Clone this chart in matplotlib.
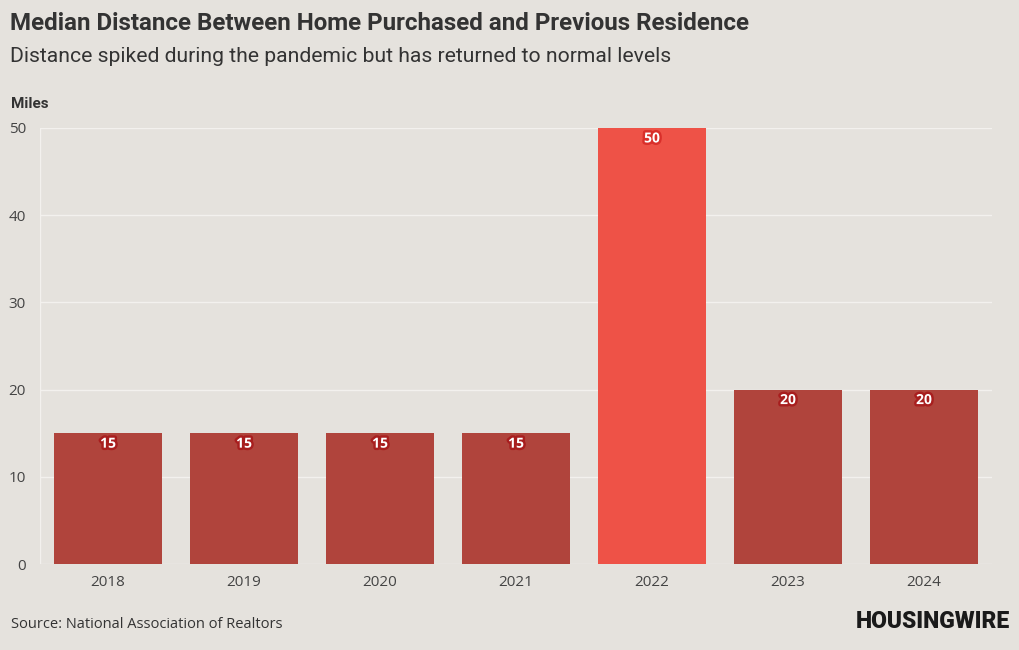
import matplotlib
matplotlib.use('Agg')
import matplotlib.pyplot as plt
import matplotlib.patheffects as pe

years = ['2018', '2019', '2020', '2021', '2022', '2023', '2024']
miles = [15, 15, 15, 15, 50, 20, 20]
highlight = '2022'

BG = '#e5e2dd'
BAR = '#b0443c'
HOT = '#ee5247'
TEXT = '#333333'

fig = plt.figure(figsize=(10.2, 6.5), dpi=100, facecolor=BG)
ax = fig.add_axes([40 / 1020, 1 - 564 / 650, 952 / 1020, 436 / 650])
ax.set_facecolor(BG)

colors = [HOT if y == highlight else BAR for y in years]
x = range(len(years))
bars = ax.bar(x, miles, width=0.8, color=colors, zorder=2)

for xi, v, c in zip(x, miles, colors):
    ax.text(xi, v - 1.2, str(v), ha='center', va='center', fontsize=10,
            fontweight='bold', color='white', family='Open Sans', zorder=3,
            path_effects=[pe.withStroke(linewidth=3.5,
                                        foreground='#a81e1e' if c == BAR else '#d92f2a')])

ax.set_xlim(-0.5, len(years) - 0.5)
ax.set_ylim(0, 50)
ax.set_yticks([0, 10, 20, 30, 40, 50])
ax.set_xticks(list(x))
ax.set_xticklabels(years)
ax.grid(axis='y', color='#f3f1ee', linewidth=1, zorder=0)
ax.axvline(-0.5, color='#f3f1ee', linewidth=1, zorder=0)
for s in ax.spines.values():
    s.set_visible(False)
ax.tick_params(length=0, labelsize=11, colors='#444444')
ax.tick_params(axis='x', pad=8)
ax.tick_params(axis='y', pad=10)
for lab in ax.get_xticklabels() + ax.get_yticklabels():
    lab.set_family('Open Sans')

fig.text(10 / 1020, 1 - 24 / 650, 'Median Distance Between Home Purchased and Previous Residence',
         fontsize=17.4, fontweight='bold', color=TEXT, family='Roboto', va='center')
fig.text(10 / 1020, 1 - 56 / 650, 'Distance spiked during the pandemic but has returned to normal levels',
         fontsize=15.2, color=TEXT, family='Roboto', va='center')
fig.text(11 / 1020, 1 - 104 / 650, 'Miles', fontsize=11, fontweight='bold',
         color=TEXT, family='Roboto', va='center')
fig.text(11 / 1020, 1 - 624 / 650, 'Source: National Association of Realtors', fontsize=10.5,
         color=TEXT, family='Open Sans', va='center')
fig.text(1010 / 1020, 1 - 621 / 650, 'HOUSINGWIRE', fontsize=16.5, fontweight='heavy',
         color='#1a1a1a', family='Roboto', ha='right', va='center')

fig.savefig('out.png', dpi=100, facecolor=BG)
